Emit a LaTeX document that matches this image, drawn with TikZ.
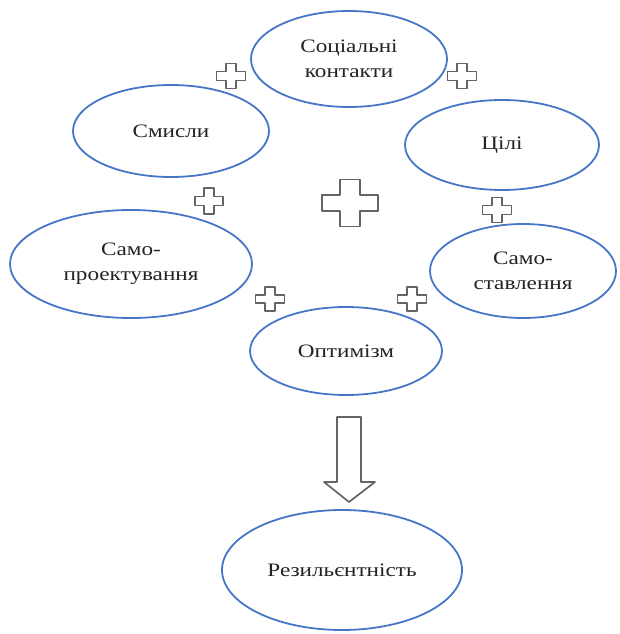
\documentclass[tikz,border=0pt]{standalone}
\usepackage{fontspec}
\setmainfont{Liberation Serif}
\newfontfamily\stretchserif[FakeStretch=1.22]{Liberation Serif}
\usetikzlibrary{shapes.geometric}
\definecolor{ellblue}{RGB}{70,118,200}
\definecolor{plusgray}{RGB}{100,100,100}
\definecolor{txt}{RGB}{35,35,35}
\tikzset{
  ell/.style={ellipse, draw=ellblue, line width=1.8pt, inner sep=0pt, align=center,
    font=\stretchserif\fontsize{19}{25}\selectfont, text=txt},
  plusline/.style={draw=plusgray, line width=1.7pt, line join=round},
  plusmark/.pic={\draw[plusline] (-0.35,-1)--(0.35,-1)--(0.35,-0.35)--(1,-0.35)--(1,0.35)--(0.35,0.35)--(0.35,1)--(-0.35,1)--(-0.35,0.35)--(-1,0.35)--(-1,-0.35)--(-0.35,-0.35)--cycle;}
}
\begin{document}
\begin{tikzpicture}[x=1pt,y=-1pt]
\useasboundingbox (0,0) rectangle (620,634);
\node[ell, minimum width=196, minimum height=96] (soc) at (349,59) {Соціальні\\контакти};
\node[ell, minimum width=196, minimum height=92] (smy) at (171,131) {Смисли};
\node[ell, minimum width=194, minimum height=90] (cil) at (502,145) {Цілі};
\node[ell, minimum width=242, minimum height=108] (spr) at (131,264) {Само-\\проектування};
\node[ell, minimum width=186, minimum height=94] (sst) at (523,271) {Само-\\ставлення};
\node[ell, minimum width=192, minimum height=88] (opt) at (346,351) {Оптимізм};
\node[ell, minimum width=240, minimum height=120] (res) at (342,570) {Резильєнтність};
\pic[xscale=14.5,yscale=12.5] at (231,76) {plusmark};
\pic[xscale=14.5,yscale=12.5] at (462,76) {plusmark};
\pic[xscale=14,yscale=13] at (209,201) {plusmark};
\pic[xscale=14.5,yscale=12.5] at (497,210) {plusmark};
\pic[xscale=14.5,yscale=12] at (270,299) {plusmark};
\pic[xscale=14.5,yscale=12] at (412,299) {plusmark};
\pic[xscale=28,yscale=23.5] at (350,203) {plusmark};
\draw[plusline] (337,417) -- (361,417) -- (361,482) -- (375,482) -- (349,502) -- (324,482) -- (337,482) -- cycle;
\end{tikzpicture}
\end{document}
